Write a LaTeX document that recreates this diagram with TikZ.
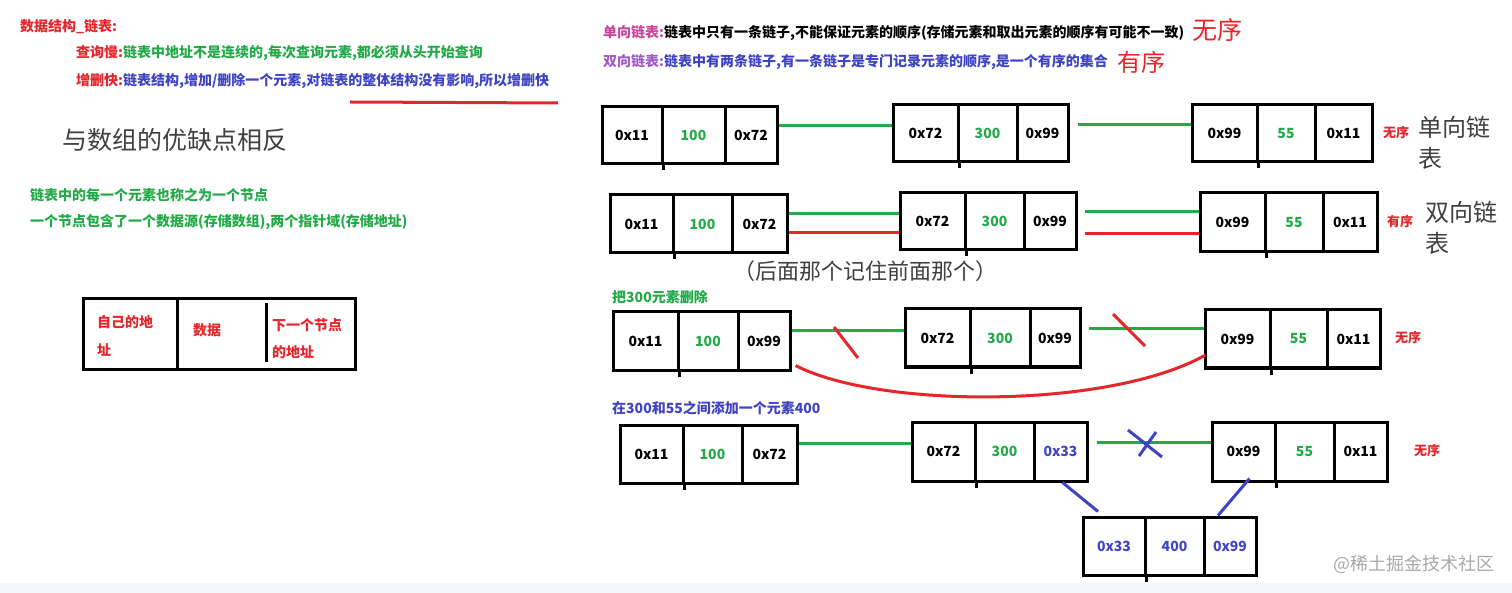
\documentclass[tikz,border=0pt]{standalone}
\usepackage{fontspec}
\setmainfont{Noto Sans CJK SC}
\usetikzlibrary{calc}
\definecolor{tred}{HTML}{E5262B}
\definecolor{tgreen}{HTML}{22AA48}
\definecolor{tblue}{HTML}{3F44C4}
\definecolor{tpink}{HTML}{C8449A}
\definecolor{tpurple}{HTML}{A05AC8}
\definecolor{tgray}{HTML}{404040}
\definecolor{wm}{HTML}{A8A8A8}
\definecolor{band}{HTML}{F5F8FA}
\begin{document}
\begin{tikzpicture}[x=1pt,y=-1pt,
  txt/.style={inner sep=0pt,anchor=west,font=\bfseries\fontsize{14}{16}\selectfont},
  big/.style={inner sep=0pt,anchor=west,font=\fontsize{25}{28}\selectfont},
  cell/.style={draw,line width=3pt,inner sep=0pt,minimum height=57pt,font=\bfseries\fontsize{14}{16}\selectfont},
  tick/.style={line width=3pt},
  gline/.style={draw=tgreen,line width=3pt},
  rline/.style={draw=tred,line width=3pt},
  bline/.style={draw=tblue,line width=3pt}]
\useasboundingbox (0,0) rectangle (1512,593);
\fill[white] (0,0) rectangle (1512,593);
\fill[band] (0,583) rectangle (1512,593);

% ---------- left texts ----------
\node[txt,text=tred] (t1) at (20,27) {数据结构\_链表:};
\node[txt] (t2) at (76,53) {\textcolor{tred}{查询慢:}\textcolor{tgreen}{链表中地址不是连续的,每次查询元素,都必须从头开始查询}};
\node[txt] (t3) at (76,81) {\textcolor{tred}{增删快:}\textcolor{tblue}{链表结构,增加/删除一个元素,对链表的整体结构没有影响,所以增删快}};
\draw[rline] (350,102) -- (558,103);
\node[big,text=tgray] (t4) at (62,140) {与数组的优缺点相反};
\node[txt,text=tgreen] (t5) at (30,195) {链表中的每一个元素也称之为一个节点};
\node[txt,text=tgreen] (t6) at (30,222) {一个节点包含了一个数据源(存储数组),两个指针域(存储地址)};

% legend box
\node[draw,line width=3pt,minimum width=272pt,minimum height=70pt,inner sep=0pt] (lg) at (219,334) {};
\draw[line width=3pt] (177,299) -- (177,369);
\draw[line width=3pt] (266,303) -- (266,362);
\node[txt,text=tred] (lg1) at (97,322) {自己的地};
\node[txt,text=tred] (lg2) at (97,350) {址};
\node[txt,text=tred] (lg3) at (193,330) {数据};
\node[txt,text=tred] (lg4) at (272,325) {下一个节点};
\node[txt,text=tred] (lg5) at (272,352) {的地址};

% ---------- top right texts ----------
\node[txt] (r1) at (603,33) {\textcolor{tpink}{单向链表:}\textcolor{black}{链表中只有一条链子,不能保证元素的顺序(存储元素和取出元素的顺序有可能不一致)}};
\node[big,text=tred] (r1b) at (1192,30) {无序};
\node[txt] (r2) at (603,62) {\textcolor{tpurple}{双向链表:}\textcolor{tblue}{链表中有两条链子,有一条链子是专门记录元素的顺序,是一个有序的集合}};
\node[big,text=tred,font=\fontsize{24}{28}\selectfont] (r2b) at (1117,62) {有序};

% ---------- row 1 ----------
\node[cell,minimum width=60pt] (a1) at (632,135) {0x11};
\node[cell,minimum width=63pt,text=tgreen] (a2) at (693.5,135) {100};
\node[cell,minimum width=52pt] (a3) at (751,135) {0x72};
\node[cell,minimum width=65pt] (b1) at (925.5,133.5) {0x72};
\node[cell,minimum width=59pt,text=tgreen] (b2) at (987.5,133.5) {300};
\node[cell,minimum width=51pt] (b3) at (1042.5,133.5) {0x99};
\node[cell,minimum width=65pt] (c1) at (1224.5,133.5) {0x99};
\node[cell,minimum width=58pt,text=tgreen] (c2) at (1286,133.5) {55};
\node[cell,minimum width=57pt] (c3) at (1343.5,133.5) {0x11};
\draw[gline] (a3.east |- 0,126) -- (b1.west |- 0,126);
\draw[gline,shorten <=8pt] (b3.east |- 0,125) -- (c1.west |- 0,125);
\node[txt,text=tred,font=\bfseries\fontsize{13}{15}\selectfont] (u1) at (1383,133) {无序};
\node[big,text=tgray,font=\fontsize{24}{28}\selectfont] (u1a) at (1418,127) {单向链};
\node[big,text=tgray,font=\fontsize{24}{28}\selectfont] (u1b) at (1418,158) {表};

% ---------- row 2 ----------
\node[cell,minimum width=63pt,minimum height=58pt] (a21) at (641.5,224) {0x11};
\node[cell,minimum width=59pt,minimum height=58pt,text=tgreen] (a22) at (702.5,224) {100};
\node[cell,minimum width=55pt,minimum height=58pt] (a23) at (759.5,224) {0x72};
\node[cell,minimum width=65pt] (b21) at (932.5,221.5) {0x72};
\node[cell,minimum width=59pt,text=tgreen] (b22) at (994.5,221.5) {300};
\node[cell,minimum width=52pt] (b23) at (1050,221.5) {0x99};
\node[cell,minimum width=65pt,minimum height=59pt] (c21) at (1232.5,222.5) {0x99};
\node[cell,minimum width=58pt,minimum height=59pt,text=tgreen] (c22) at (1294,222.5) {55};
\node[cell,minimum width=54pt,minimum height=59pt] (c23) at (1350,222.5) {0x11};
\draw[gline] (a23.east |- 0,214) -- (b21.west |- 0,214);
\draw[rline] (a23.east |- 0,233) -- (b21.west |- 0,233);
\draw[gline,shorten <=7pt] (b23.east |- 0,212) -- (c21.west |- 0,212);
\draw[rline,shorten <=7pt] (b23.east |- 0,234) -- (c21.west |- 0,234);
\node[txt,text=tred,font=\bfseries\fontsize{13}{15}\selectfont] (u2) at (1387,222) {有序};
\node[big,text=tgray,font=\fontsize{24}{28}\selectfont] (u2a) at (1425,212) {双向链};
\node[big,text=tgray,font=\fontsize{24}{28}\selectfont] (u2b) at (1425,243) {表};
\node[big,text=tgray,font=\fontsize{22}{26}\selectfont] (note) at (733,271) {（后面那个记住前面那个）};

% ---------- row 3 ----------
\node[txt,text=tgreen] (h3) at (612,297) {把300元素删除};
\node[cell,minimum width=65pt,minimum height=58pt] (a31) at (645.5,341) {0x11};
\node[cell,minimum width=60pt,minimum height=58pt,text=tgreen] (a32) at (708,341) {100};
\node[cell,minimum width=52pt,minimum height=58pt] (a33) at (764,341) {0x99};
\node[cell,minimum width=65pt,minimum height=58pt] (b31) at (937.5,338) {0x72};
\node[cell,minimum width=60pt,minimum height=58pt,text=tgreen] (b32) at (1000,338) {300};
\node[cell,minimum width=50pt,minimum height=58pt] (b33) at (1055,338) {0x99};
\node[cell,minimum width=65pt,minimum height=58pt] (c31) at (1237.5,339) {0x99};
\node[cell,minimum width=57pt,minimum height=58pt,text=tgreen] (c32) at (1298.5,339) {55};
\node[cell,minimum width=53pt,minimum height=58pt] (c33) at (1353.5,339) {0x11};
\draw[gline] (a33.east |- 0,331) -- (b31.west |- 0,331);
\draw[gline,shorten <=7pt] (b33.east |- 0,329) -- (c31.west |- 0,329);
\draw[rline] (834,327) -- (858,358);
\draw[rline] (1113,314) -- (1145,346);
\draw[rline] ($(a33.south east)+(4,-6)$) .. controls (880,409) and (1110,409) .. ($(c31.west)+(2,16)$);
\node[txt,text=tred,font=\bfseries\fontsize{13}{15}\selectfont] (u3) at (1395,338) {无序};

% ---------- row 4 ----------
\node[txt,text=tblue] (h4) at (612,408) {在300和55之间添加一个元素400};
\node[cell,minimum width=63pt,minimum height=58pt] (a41) at (651.5,454) {0x11};
\node[cell,minimum width=59pt,minimum height=58pt,text=tgreen] (a42) at (712.5,454) {100};
\node[cell,minimum width=55pt,minimum height=58pt] (a43) at (769.5,454) {0x72};
\node[cell,minimum width=63pt,minimum height=59pt] (b41) at (943.5,451.5) {0x72};
\node[cell,minimum width=59pt,minimum height=59pt,text=tgreen] (b42) at (1004.5,451.5) {300};
\node[cell,minimum width=53pt,minimum height=59pt,text=tblue] (b43) at (1060.5,451.5) {0x33};
\node[cell,minimum width=63pt,minimum height=59pt] (c41) at (1243.5,451.5) {0x99};
\node[cell,minimum width=59pt,minimum height=59pt,text=tgreen] (c42) at (1304.5,451.5) {55};
\node[cell,minimum width=53pt,minimum height=59pt] (c43) at (1360.5,451.5) {0x11};
\node[cell,minimum width=62pt,minimum height=58pt,text=tblue] (d41) at (1114,546) {0x33};
\node[cell,minimum width=59pt,minimum height=58pt,text=tblue] (d42) at (1174.5,546) {400};
\node[cell,minimum width=52pt,minimum height=58pt,text=tblue] (d43) at (1230,546) {0x99};
\draw[gline] (a43.east |- 0,443) -- (b41.west |- 0,443);
\draw[gline,shorten <=8pt] (b43.east |- 0,442) -- (c41.west |- 0,442);
\draw[bline] (1128,430) -- (1162,457);
\draw[bline] (1156,432) -- (1139,456);
\draw[bline] ($(b43.south)+(2,0)$) -- ($(d41.north)+(-16,-4)$);
\draw[bline] ($(c41.south)+(6,-4)$) -- ($(d43.north)+(-12,0)$);
\node[txt,text=tred,font=\bfseries\fontsize{13}{15}\selectfont] (u4) at (1414,451) {无序};

% small ticks under the first divider of each node
\foreach \n in {a1,b1,c1,a21,b21,c21,a31,b31,c31,a41,b41,c41,d41}
  \draw[tick] (\n.south east) -- ++(0,5);

% watermark
\node[inner sep=0pt,anchor=west,text=wm,font=\fontsize{18}{20}\selectfont] (wmk) at (1333,564) {@稀土掘金技术社区};
\end{tikzpicture}
\end{document}
